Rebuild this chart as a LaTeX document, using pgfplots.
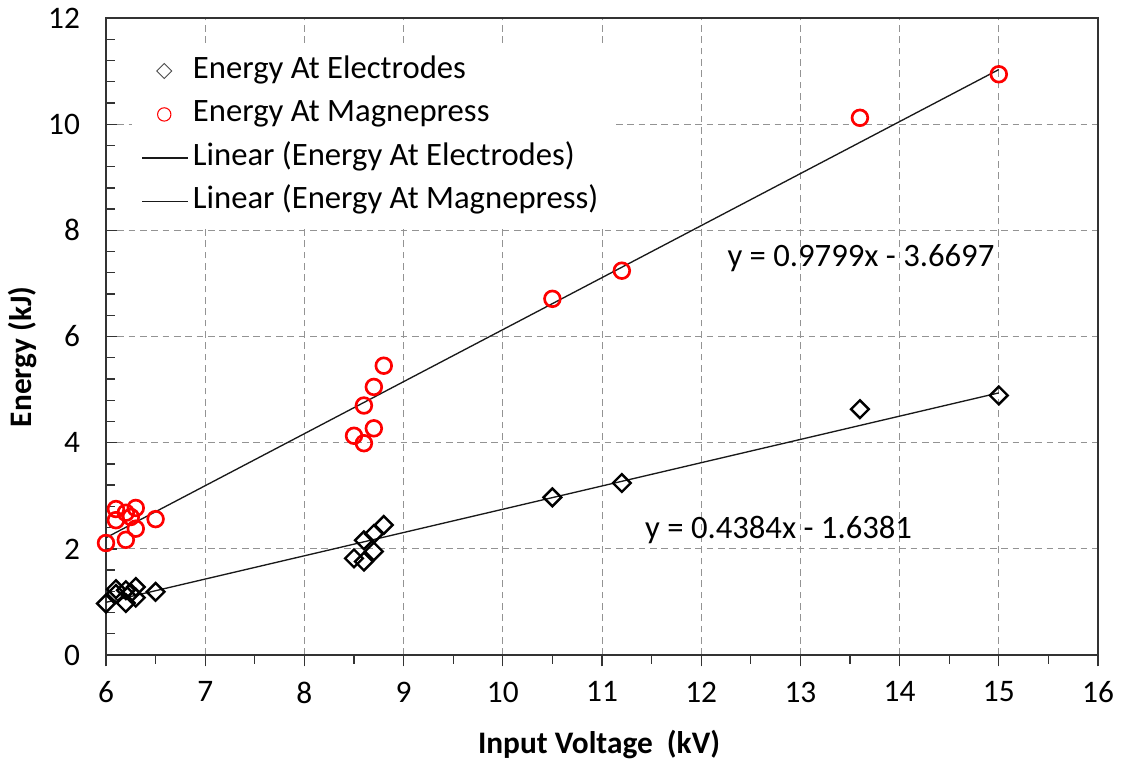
\documentclass[border=0pt]{standalone}
\usepackage{fontspec}
\setmainfont{Carlito}
\usepackage{pgfplots}
\pgfplotsset{compat=1.18}
\newcommand{\fs}{\fontsize{23.5}{28}\selectfont}
\newcommand{\fl}{\fontsize{24.5}{29}\selectfont}
\newcommand{\fsb}{\fontsize{23.5}{28}\selectfont\bfseries}
\begin{document}
\begin{tikzpicture}
\useasboundingbox (-79.5pt,-82.5pt) rectangle (766.5pt,491.25pt);
\begin{axis}[
  at={(0pt,0pt)}, anchor=south west,
  scale only axis, width=744pt, height=477.75pt,
  xmin=6, xmax=16, ymin=0, ymax=12,
  xtick={6,7,...,16}, ytick={0,2,...,12},
  minor x tick num=1, minor y tick num=4,
  xtick pos=bottom, ytick pos=left,
  xtick align=outside, ytick align=inside,
  major tick length=8.5pt, minor tick length=6.5pt,
  tick style={line width=1pt, black!80},
  axis line style={line width=1.1pt, black!80},
  grid=major,
  major grid style={line width=0.75pt, gray!85, dash pattern=on 5pt off 3.5pt},
  /pgf/number format/assume math mode=true,
  ticklabel style={font=\fs},
  yticklabel style={xshift=-16pt},
  xticklabel style={yshift=-8pt},
  xlabel={Input Voltage~~(kV)},
  ylabel={Energy (kJ)},
  label style={font=\fsb},
  xlabel style={at={(axis description cs:0.497,0)}, anchor=base, yshift=-73.5pt},
  ylabel style={at={(axis description cs:-0.0842,0.468)}, anchor=center},
  legend style={at={(axis description cs:0.0262,0.956)}, anchor=north west,
    draw=none, fill=white, inner xsep=7pt, inner ysep=4pt, row sep=3.6pt,
    font=\fl, cells={anchor=west},
    nodes={inner xsep=3pt, inner ysep=3pt, text height=17pt, text depth=6pt}},
  legend cell align=left,
]
% Energy At Electrodes
\addplot[only marks, mark=square, mark size=4.7pt,
  mark options={rotate=45, draw=black, line width=1.8pt, fill=none}, forget plot]
  coordinates {
  (6.0,0.97) (6.1,1.24) (6.1,1.15) (6.2,1.22) (6.2,0.98) (6.25,1.17)
  (6.3,1.28) (6.3,1.08) (6.5,1.19)
  (8.5,1.82) (8.6,2.16) (8.6,1.76) (8.7,2.28) (8.7,1.95) (8.8,2.45)
  (10.5,2.97) (11.2,3.24) (13.6,4.63) (15.0,4.89)};
% Energy At Magnepress
\addplot[only marks, mark=o, mark size=5.9pt,
  mark options={draw=red, line width=2pt}, forget plot]
  coordinates {
  (6.0,2.11) (6.1,2.75) (6.1,2.54) (6.2,2.68) (6.2,2.17) (6.25,2.60)
  (6.3,2.77) (6.3,2.38) (6.5,2.56)
  (8.5,4.13) (8.6,4.70) (8.6,3.99) (8.7,5.05) (8.7,4.27) (8.8,5.45)
  (10.5,6.71) (11.2,7.24) (13.6,10.12) (15.0,10.94)};
% Linear trend lines
\addplot[black!90, line width=1pt, forget plot] coordinates {(6,0.9923) (15,4.9379)};
\addplot[black!90, line width=1pt, forget plot] coordinates {(6,2.2097) (15,11.0288)};
% legend
\addlegendimage{legend image code/.code={
  \path (0pt,0pt) (34.5pt,0pt);
  \draw[black!70, line width=0.7pt, rotate around={45:(16.5pt,0pt)}] (12.5pt,-4pt) rectangle (20.5pt,4pt);}}
\addlegendentry{Energy At Electrodes}
\addlegendimage{legend image code/.code={
  \path (0pt,0pt) (34.5pt,0pt);
  \draw[red, line width=0.8pt] (16.5pt,0pt) circle (5pt);}}
\addlegendentry{Energy At Magnepress}
\addlegendimage{legend image code/.code={
  \draw[black!90, line width=1pt] (0pt,0pt) -- (34.5pt,0pt);}}
\addlegendentry{Linear (Energy At Electrodes)}
\addlegendimage{legend image code/.code={
  \draw[black!90, line width=1pt] (0pt,0pt) -- (34.5pt,0pt);}}
\addlegendentry{Linear (Energy At Magnepress)}
\node[anchor=base, font=\fl] at (axis cs:13.61,7.31) {y = 0.9799x - 3.6697};
\node[anchor=base, font=\fl] at (axis cs:12.78,2.20) {y = 0.4384x - 1.6381};
\end{axis}
\end{tikzpicture}
\end{document}
